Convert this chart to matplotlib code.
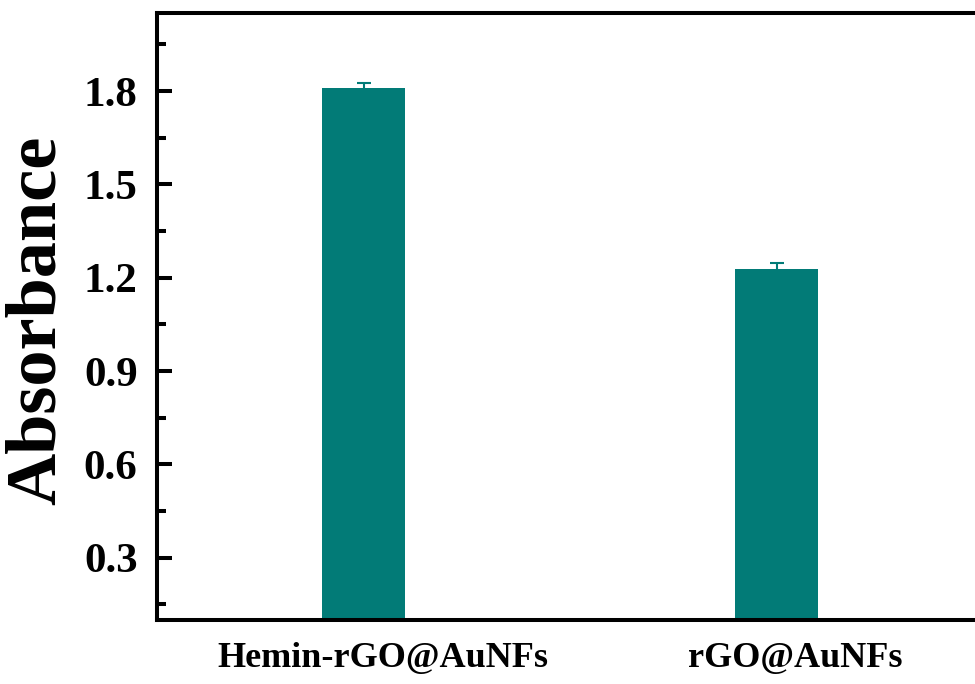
import matplotlib
matplotlib.use("Agg")
import matplotlib.pyplot as plt
from matplotlib.ticker import MultipleLocator
import matplotlib.transforms as mtransforms

categories = ["Hemin-rGO@AuNFs", "rGO@AuNFs"]
values = [1.81, 1.229]
errors = [0.016, 0.018]
yticks = [0.3, 0.6, 0.9, 1.2, 1.5, 1.8]

plt.rcParams['font.family'] = ['Liberation Serif', 'DejaVu Serif']
plt.rcParams['font.weight'] = 'bold'

fig = plt.figure(figsize=(9.75, 6.84), dpi=100)
W, H = 975, 684
left, right, bottom, top = 157, 983, 620, 13.3
ax = fig.add_axes([left / W, (H - bottom) / H, (right - left) / W, (bottom - top) / H])

color = '#027B77'
x = [1, 2]
ax.bar(x, values, width=0.2, color=color, yerr=errors,
       error_kw=dict(ecolor=color, elinewidth=1.5, capsize=4.8, capthick=1.5))

ax.set_xlim(0.5, 2.5)
ax.set_ylim(0.1, 2.05)
ax.set_yticks(yticks)
ax.set_yticklabels([f"{v:.1f}" for v in yticks])
ax.yaxis.set_minor_locator(MultipleLocator(0.15))
ax.set_xticks(x)
ax.set_xticklabels(categories)

for s in ax.spines.values():
    s.set_linewidth(2.9)

ax.tick_params(axis='y', which='major', direction='in', length=10.8, width=2.9,
               labelsize=31, pad=14)
ax.tick_params(axis='y', which='minor', direction='in', length=6.5, width=2.9)
ax.tick_params(axis='x', which='both', length=0, labelsize=26, pad=16)
ax.tick_params(axis='y', which='both', right=False)

offset = mtransforms.ScaledTranslation(19 / 100, 0, fig.dpi_scale_trans)
for lab in ax.get_xticklabels():
    lab.set_transform(lab.get_transform() + offset)

fig.text(37 / W, 1 - 320 / H, "Absorbance", rotation=90, ha='center', va='center',
         fontsize=52, fontweight='bold')

fig.savefig("out.png", dpi=100)
